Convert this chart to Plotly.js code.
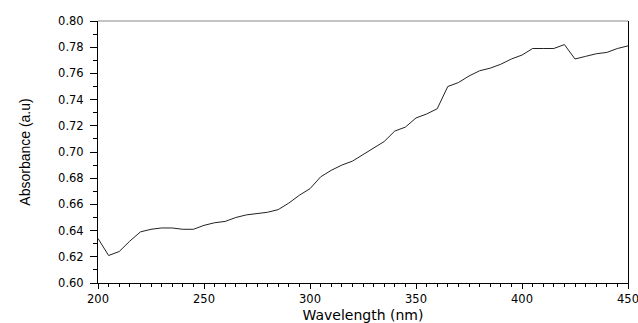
<!DOCTYPE html>
<html><head><meta charset="utf-8">
<script src="https://cdn.plot.ly/plotly-3.0.1.min.js"></script>
<style>html,body{margin:0;padding:0;background:#fff}#c{width:638px;height:323px}</style>
</head><body><div id="c"></div>
<script>
const wavelength = [200,205,210,215,220,225,230,235,240,245,250,255,260,265,270,275,280,285,290,295,300,305,310,315,320,325,330,335,340,345,350,355,360,365,370,375,380,385,390,395,400,405,410,415,420,425,430,435,440,445,450];
const absorbance = [0.634,0.621,0.624,0.632,0.639,0.641,0.642,0.642,0.641,0.641,0.644,0.646,0.647,0.650,0.652,0.653,0.654,0.656,0.661,0.667,0.672,0.681,0.686,0.690,0.693,0.698,0.703,0.708,0.716,0.719,0.726,0.729,0.733,0.750,0.753,0.758,0.762,0.764,0.767,0.771,0.774,0.779,0.779,0.779,0.782,0.771,0.773,0.775,0.776,0.779,0.781];

const tickFont = {family: 'DejaVu Sans', size: 11.5, color: '#000'};
Plotly.newPlot('c', [{
  x: wavelength, y: absorbance, type: 'scatter', mode: 'lines',
  line: {color: '#222', width: 1}, hoverinfo: 'skip'
}], {
  width: 638, height: 323,
  margin: {l: 98, r: 10, t: 21, b: 40},
  paper_bgcolor: '#fff', plot_bgcolor: '#fff',
  showlegend: false,
  xaxis: {
    range: [200, 450], tickmode: 'linear', tick0: 200, dtick: 50,
    ticklabeloverflow: 'allow',
    showgrid: false, zeroline: false, showline: true, linecolor: '#000', linewidth: 1,
    ticks: 'outside', ticklen: 5, tickcolor: '#000', tickwidth: 1, tickfont: tickFont,
    minor: {tickmode: 'linear', dtick: 5, ticks: 'outside', ticklen: 3, tickcolor: '#000', tickwidth: 1, showgrid: false},
    title: {text: 'Wavelength (nm)', font: {family: 'DejaVu Sans', size: 14, color: '#000'}, standoff: 5}
  },
  yaxis: {
    range: [0.60, 0.80], tickmode: 'linear', tick0: 0.60, dtick: 0.02, tickformat: '.2f',
    showgrid: false, zeroline: false, showline: true, linecolor: '#000', linewidth: 1, mirror: true,
    ticks: 'outside', ticklen: 7, tickcolor: '#000', tickwidth: 1, tickfont: tickFont,
    ticklabelstandoff: 4,
    minor: {tickmode: 'linear', dtick: 0.01, ticks: 'outside', ticklen: 4, tickcolor: '#000', tickwidth: 1, showgrid: false},
    title: {text: 'Absorbance (a.u)', font: {family: 'Liberation Sans', size: 14, color: '#000'}, standoff: 24}
  },
  shapes: [{type: 'line', xref: 'paper', yref: 'paper', x0: 0, x1: 1, y0: 1, y1: 1, line: {color: '#888', width: 1}}]
}, {displayModeBar: false, staticPlot: true});
</script></body></html>
